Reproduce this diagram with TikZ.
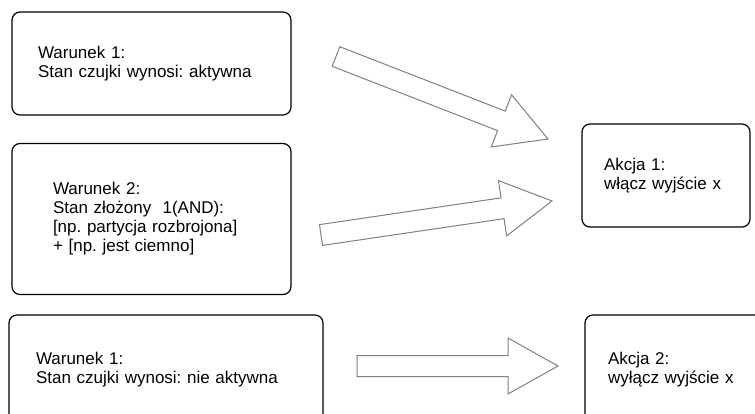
\documentclass[tikz,border=0pt]{standalone}
\usepackage{fontspec}
\setmainfont{Liberation Sans}
\usetikzlibrary{calc}
\frenchspacing

% block arrow from #1 to #2
\newcommand{\blockarr}[2]{%
  \coordinate (h) at ($(#2)!50pt!(#1)$);
  \draw[arrowline] ($(#1)!10.5pt!90:(#2)$) -- ($(h)!10.5pt!90:(#2)$)
    -- ($(h)!28pt!90:(#2)$) -- (#2) -- ($(h)!28pt!-90:(#2)$)
    -- ($(h)!10.5pt!-90:(#2)$) -- ($(#1)!10.5pt!-90:(#2)$) -- cycle;}

\begin{document}
\begin{tikzpicture}[x=1pt, y=-1pt,
  every node/.style = {shape=rectangle, rounded corners=8pt,
    draw, line width=1.2pt, align=left, inner ysep=0pt,
    font=\fontsize{17}{19}\selectfont},
  arrowline/.style = {draw=black!50, line width=1pt, fill=white}]
  \clip (0,0) rectangle (755,414);
  \node[minimum width=279pt, minimum height=103pt, text width=227pt, inner xsep=26pt]
    (w1) at (151.5,63.5) {Warunek 1:\\Stan czujki wynosi: aktywna};
  \node[minimum width=279pt, minimum height=151pt, text width=197pt, inner xsep=41pt]
    (w2) at (151.5,219) {Warunek 2:\\Stan złożony \ 1(AND):\\{}[np. partycja rozbrojona]\\+ [np. jest ciemno]};
  \node[minimum width=314pt, minimum height=110pt, text width=260pt, inner xsep=27pt]
    (w3) at (166,370) {Warunek 1:\\Stan czujki wynosi: nie aktywna};
  \node[minimum width=168pt, minimum height=103pt, text width=124pt, inner xsep=22pt]
    (a1) at (666,175.5) {Akcja 1:\\włącz wyjście x};
  \node[minimum width=180pt, minimum height=110pt, text width=134pt, inner xsep=23pt]
    (a2) at (675,370) {Akcja 2:\\wyłącz wyjście x};
  % arrows
  \coordinate (s1) at (336,56.5);  \coordinate (e1) at (548,139);
  \coordinate (s2) at (321,235);   \coordinate (e2) at (552,201);
  \coordinate (s3) at (357,366);   \coordinate (e3) at (558,366);
  \blockarr{s1}{e1}
  \blockarr{s2}{e2}
  \blockarr{s3}{e3}
\end{tikzpicture}
\end{document}
